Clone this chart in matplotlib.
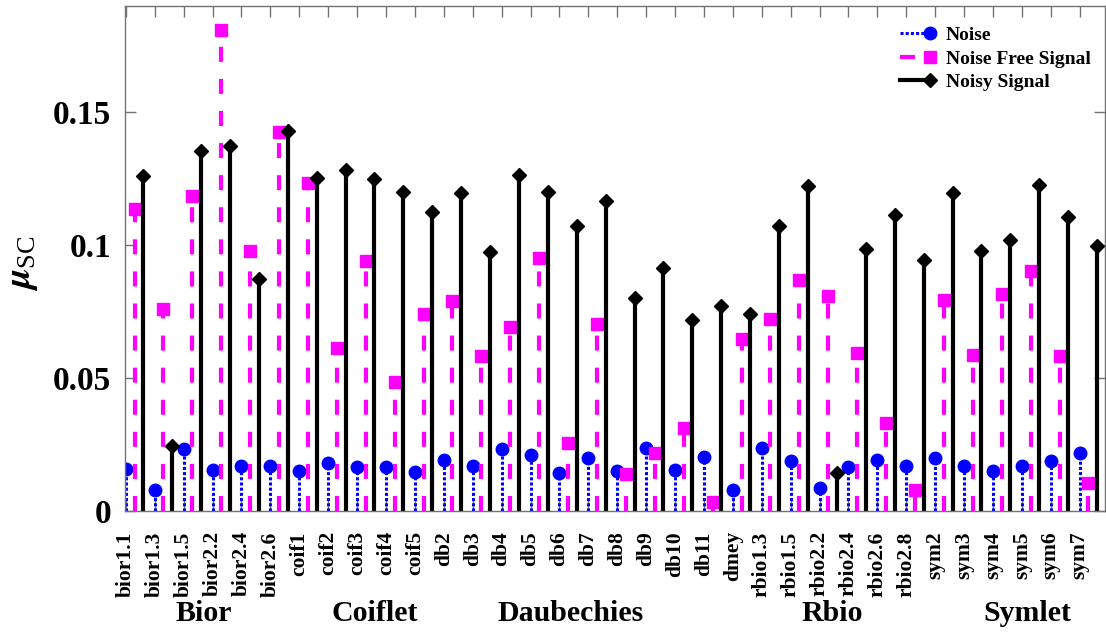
import numpy as np
import matplotlib
matplotlib.use('Agg')
import matplotlib.pyplot as plt
from matplotlib.lines import Line2D
from matplotlib.legend_handler import HandlerBase

plt.rcParams['font.family'] = ['Liberation Serif', 'DejaVu Serif']
plt.rcParams['font.weight'] = 'bold'
plt.rcParams['mathtext.fontset'] = 'stix'

wavelets = ['bior1.1', 'bior1.3', 'bior1.5', 'bior2.2', 'bior2.4', 'bior2.6',
            'coif1', 'coif2', 'coif3', 'coif4', 'coif5',
            'db2', 'db3', 'db4', 'db5', 'db6', 'db7', 'db8', 'db9', 'db10', 'db11',
            'dmey', 'rbio1.3', 'rbio1.5', 'rbio2.2', 'rbio2.4', 'rbio2.6', 'rbio2.8',
            'sym2', 'sym3', 'sym4', 'sym5', 'sym6', 'sym7']

noise = [0.0155, 0.0077, 0.0230, 0.0152, 0.0167, 0.0167, 0.0150, 0.0180, 0.0165,
         0.0165, 0.0145, 0.0192, 0.0167, 0.0230, 0.0209, 0.0142, 0.0196, 0.0148,
         0.0234, 0.0152, 0.0202, 0.0077, 0.0236, 0.0186, 0.0083, 0.0165, 0.0190,
         0.0167, 0.0196, 0.0167, 0.0148, 0.0167, 0.0186, 0.0217]
noise_free = [0.1136, 0.0760, 0.1186, 0.1809, 0.0977, 0.1424, 0.1232, 0.0613, 0.0938,
              0.0484, 0.0739, 0.0788, 0.0582, 0.0691, 0.0951, 0.0256, 0.0701, 0.0137,
              0.0215, 0.0311, 0.0033, 0.0647, 0.0720, 0.0870, 0.0808, 0.0595, 0.0328,
              0.0077, 0.0791, 0.0587, 0.0816, 0.0902, 0.0581, 0.0105]
noisy = [0.1259, 0.0242, 0.1355, 0.1371, 0.0873, 0.1430, 0.1251, 0.1283, 0.1249,
         0.1199, 0.1123, 0.1195, 0.0973, 0.1264, 0.1199, 0.1070, 0.1167, 0.0800,
         0.0913, 0.0716, 0.0769, 0.0741, 0.1070, 0.1224, 0.0142, 0.0986, 0.1114,
         0.0942, 0.1195, 0.0976, 0.1019, 0.1226, 0.1107, 0.0998]

groups = ['Bior', 'Coiflet', 'Daubechies', 'Rbio', 'Symlet']
group_centers = [3.7, 9.6, 16.4, 25.45, 32.2]

yticks = [0, 0.05, 0.1, 0.15]
yticklabels = ['0', '0.05', '0.1', '0.15']


class StemHandler(HandlerBase):
    # matlab-style legend entry: line with the marker at its right end
    def create_artists(self, legend, orig_handle, xdescent, ydescent,
                       width, height, fontsize, trans):
        y = height / 2 - ydescent
        ln = Line2D([-xdescent, width - xdescent], [y, y])
        ln.update_from(orig_handle)
        ln.set_marker('None')
        mk = Line2D([width - xdescent], [y])
        mk.update_from(orig_handle)
        mk.set_linestyle('None')
        ln.set_transform(trans)
        mk.set_transform(trans)
        return [ln, mk]


def stem(ax, x, y, color, ls, lw, marker, ms):
    markerline, stemlines, baseline = ax.stem(x, y, basefmt=' ')
    stemlines.set_color(color)
    stemlines.set_linestyle(ls)
    stemlines.set_linewidth(lw)
    markerline.set_marker(marker)
    markerline.set_markersize(ms)
    markerline.set_color(color)
    markerline.set_markerfacecolor(color)
    markerline.set_markeredgecolor(color)
    baseline.set_visible(False)
    return Line2D([], [], color=color, linestyle=ls, linewidth=lw,
                  marker=marker, markersize=ms, markerfacecolor=color,
                  markeredgecolor=color)


def main():
    x = np.arange(1, len(wavelets) + 1)

    plt.close('all')
    fig = plt.figure(figsize=(11.06, 6.32), dpi=100)
    ax = fig.add_axes([0.113, 0.1922, 0.886, 0.7983])

    h1 = stem(ax, x, noise, '#0000FF', (0, (1, 0.7)), 2.2, 'o', 9)
    h2 = stem(ax, x + 0.3, noise_free, '#FF00FF', (0, (3.6, 4.1)), 3, 's', 8)
    h3 = stem(ax, x + 0.6, noisy, 'black', '-', 3, 'D', 7)

    ax.set_xlim(0.97, 34.87)
    ax.set_ylim(0, 0.19)
    ax.set_xticks(x)
    ax.set_xticklabels(wavelets, rotation=90, fontsize=15.5, fontweight='bold')
    ax.set_yticks(yticks)
    ax.set_yticklabels(yticklabels, fontsize=24, fontweight='bold')
    ax.tick_params(direction='in', length=8, width=1, color='0.45',
                   top=True, right=True)
    ax.tick_params(axis='x', pad=15)
    ax.tick_params(axis='y', pad=10)
    for s in ax.spines.values():
        s.set_color('0.45')
        s.set_linewidth(1)

    ax.set_ylabel(r'$\mu_{\mathregular{SC}}$', fontsize=27, fontweight='normal')
    ax.yaxis.set_label_coords(-0.087, 0.49)

    for name, gx in zip(groups, group_centers):
        ax.text(gx, -0.205, name, transform=ax.get_xaxis_transform(),
                ha='center', va='center', fontsize=21.5, fontweight='bold')

    ax.legend([h1, h2, h3], ['Noise', 'Noise Free Signal', 'Noisy Signal'],
              handler_map={Line2D: StemHandler()},
              loc='upper left', bbox_to_anchor=(0.8137, 0.958),
              bbox_transform=fig.transFigure, frameon=False,
              prop={'size': 14, 'weight': 'bold'}, handlelength=1.55,
              handletextpad=0.8, labelspacing=0.3, borderpad=0,
              borderaxespad=0)

    fig.savefig('out.png', dpi=100)


if __name__ == "__main__":
    main()
